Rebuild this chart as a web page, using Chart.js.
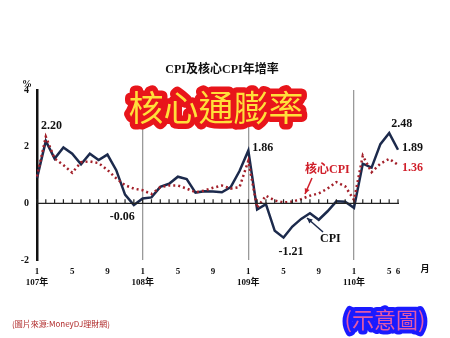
<!DOCTYPE html>
<html>
<head>
<meta charset="utf-8">
<script src="https://cdn.jsdelivr.net/npm/chart.js@4.4.1/dist/chart.umd.min.js"></script>
<style>
  html, body { margin: 0; padding: 0; background: #fff; }
  #wrap { width: 450px; height: 338px; position: relative; }
</style>
</head>
<body>
<div id="wrap"><canvas id="c" width="450" height="338"></canvas></div>
<script>
"use strict";

/* ===== DADOS ===== */
const anos = [107, 108, 109, 110];
const meses = [];                 // rótulo de cada ponto: "107/1" ... "110/6"
anos.forEach(a => {
  const fim = a === 110 ? 6 : 12;
  for (let m = 1; m <= fim; m++) meses.push(a + "/" + m);
});

const cpi = [
  0.89, 2.20, 1.58, 1.97, 1.75, 1.38, 1.75, 1.53, 1.72, 1.17, 0.31, -0.06,
  0.17, 0.21, 0.58, 0.69, 0.94, 0.86, 0.38, 0.43, 0.42, 0.39, 0.57, 1.14,
  1.86, -0.22, -0.03, -0.97, -1.21, -0.82, -0.55, -0.35, -0.58, -0.28, 0.07, 0.06,
  -0.16, 1.40, 1.26, 2.09, 2.48, 1.89
];

const coreCpi = [
  0.95, 2.35, 1.58, 1.35, 1.08, 1.45, 1.48, 1.42, 1.18, 0.88, 0.64, 0.52,
  0.46, 0.33, 0.57, 0.63, 0.63, 0.52, 0.39, 0.45, 0.55, 0.63, 0.52, 0.57,
  1.50, -0.15, 0.27, 0.10, 0.03, 0.06, 0.15, 0.27, 0.35, 0.52, 0.75, 0.60,
  0.12, 1.68, 1.10, 1.40, 1.57, 1.36
];

const yTicks = [-2, 0, 2, 4];
const mesesMostrados = [1, 5, 9];
const mesesMostrados110 = [1, 5, 6];

const COR_CPI = "#1c2a4c";
const COR_CORE = "#a3202a";
const SERIF = "'Liberation Serif', 'DejaVu Serif', 'Noto Sans CJK TC', serif";

/* ===== ANOTAÇÕES (texto desenhado no canvas) ===== */
const anotacoes = {
  id: "anotacoes",
  afterDraw(chart) {
    const { ctx, scales: { x, y } } = chart;
    const px = i => x.getPixelForValue(i);
    const py = v => y.getPixelForValue(v);
    ctx.save();

    // título
    ctx.fillStyle = "#111";
    ctx.font = "bold 12px " + SERIF;
    ctx.textAlign = "center";
    ctx.textBaseline = "middle";
    ctx.fillText("CPI及核心CPI年增率", 222, 70);

    // "%" acima do eixo
    ctx.font = "bold 10px " + SERIF;
    ctx.fillText("%", 27, 84);

    // linha zero com marcas
    ctx.strokeStyle = "#222";
    ctx.lineWidth = 1.2;
    ctx.beginPath();
    ctx.moveTo(x.left, py(0));
    ctx.lineTo(x.right + 1, py(0));
    for (let i = 0; i < meses.length; i++) {
      ctx.moveTo(px(i), py(0));
      ctx.lineTo(px(i), py(0) - 4);
    }
    ctx.stroke();

    // rótulos de valores
    ctx.font = "bold 12px " + SERIF;
    ctx.textAlign = "left";
    ctx.fillStyle = "#111";
    ctx.fillText("2.20", px(0) + 4, py(2.20) - 15);
    ctx.fillText("1.86", px(24) + 4, py(1.86) - 3);
    ctx.fillText("-0.06", px(11) - 24, py(-0.06) + 12);
    ctx.fillText("-1.21", px(28) - 5, py(-1.21) + 14);
    ctx.fillText("2.48", px(40) + 2, py(2.48) - 9);
    ctx.fillText("1.89", px(41) + 4, py(1.89) - 2);
    ctx.fillStyle = "#d01f2a";
    ctx.fillText("1.36", px(41) + 4, py(1.36) + 3);

    // legendas com setas
    ctx.fillText("核心CPI", 305, 170);
    ctx.fillStyle = "#111";
    ctx.fillText("CPI", 320, 239);

    const seta = (x1, y1, x2, y2, cor) => {
      ctx.strokeStyle = cor;
      ctx.fillStyle = cor;
      ctx.lineWidth = 1.5;
      ctx.beginPath();
      ctx.moveTo(x1, y1);
      ctx.lineTo(x2, y2);
      ctx.stroke();
      const ang = Math.atan2(y2 - y1, x2 - x1);
      ctx.beginPath();
      ctx.moveTo(x2, y2);
      ctx.lineTo(x2 - 6 * Math.cos(ang - 0.45), y2 - 6 * Math.sin(ang - 0.45));
      ctx.lineTo(x2 - 6 * Math.cos(ang + 0.45), y2 - 6 * Math.sin(ang + 0.45));
      ctx.closePath();
      ctx.fill();
    };
    seta(312, 178, 305, 194, "#d01f2a");
    seta(323, 232, 307, 218, "#1c2a4c");

    // "月"
    ctx.fillStyle = "#111";
    ctx.font = "bold 9px " + SERIF;
    ctx.textAlign = "center";
    ctx.fillText("月", 425, 270);

    // faixa "核心通膨率"
    ctx.font = "35px 'Noto Sans CJK TC', sans-serif";
    ctx.textAlign = "center";
    ctx.lineJoin = "round";
    ctx.strokeStyle = "#e8151b";
    ctx.lineWidth = 11;
    ctx.strokeText("核心通膨率", 216, 108);
    ctx.fillStyle = "#ffdf3a";
    ctx.fillText("核心通膨率", 216, 108);

    // fonte
    ctx.font = "8px 'Noto Sans CJK TC', sans-serif";
    ctx.textAlign = "left";
    ctx.fillStyle = "#b02a2a";
    ctx.fillText("(圖片來源:MoneyDJ理財網)", 12, 324);

    // "(示意圖)"
    ctx.font = "22px 'Noto Sans CJK TC', sans-serif";
    ctx.textAlign = "center";
    ctx.strokeStyle = "#1a1aff";
    ctx.lineWidth = 8;
    ctx.strokeText("(示意圖)", 385, 320);
    ctx.fillStyle = "#e25aa8";
    ctx.fillText("(示意圖)", 385, 320);

    ctx.restore();
  }
};

/* ===== GRÁFICO ===== */
new Chart(document.getElementById("c"), {
  type: "line",
  data: {
    labels: meses,
    datasets: [
      {
        label: "核心CPI",
        data: coreCpi,
        borderColor: COR_CORE,
        borderWidth: 2.5,
        borderDash: [2, 3],
        pointRadius: 0,
        tension: 0
      },
      {
        label: "CPI",
        data: cpi,
        borderColor: COR_CPI,
        borderWidth: 2.5,
        pointRadius: 0,
        tension: 0
      }
    ]
  },
  options: {
    responsive: false,
    animation: false,
    layout: { padding: { left: 0, right: 52, top: 90, bottom: 36 } },
    plugins: { legend: { display: false }, tooltip: { enabled: false } },
    scales: {
      x: {
        offset: false,
        afterFit: s => { s.height = 42; },
        border: { display: false },
        grid: {
          drawTicks: false,
          color: ctx => {
            const i = ctx.index;
            return i > 0 && i % 12 === 0 ? "#9a9a9a" : "rgba(0,0,0,0)";
          },
          lineWidth: 1.3
        },
        ticks: {
          autoSkip: false,
          maxRotation: 0,
          padding: 6,
          color: "#111",
          font: { family: SERIF, size: 9, weight: "bold" },
          callback: (v, i) => {
            const [a, m] = meses[i].split("/").map(Number);
            const lista = a === 110 ? mesesMostrados110 : mesesMostrados;
            if (!lista.includes(m)) return "";
            return m === 1 ? [String(m), a + "年"] : [String(m), ""];
          }
        }
      },
      y: {
        min: -2,
        max: 4,
        afterFit: s => { s.width = 37; },
        afterBuildTicks: s => { s.ticks = yTicks.map(v => ({ value: v })); },
        border: { display: true, color: "#111", width: 2.5 },
        grid: { display: false, drawTicks: false },
        ticks: {
          padding: 8,
          color: "#111",
          font: { family: SERIF, size: 10, weight: "bold" }
        }
      }
    }
  },
  plugins: [anotacoes]
});
</script>
</body>
</html>
